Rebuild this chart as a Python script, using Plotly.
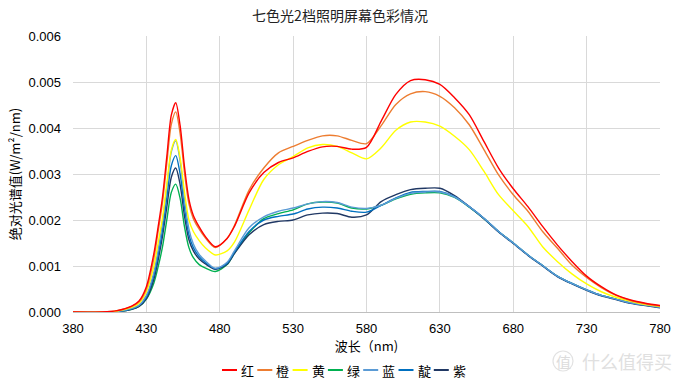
import plotly.graph_objects as go

wavelength = [380, 400, 410, 420, 425, 430, 435, 438, 441, 444, 447, 450, 453, 456, 459, 462, 466, 470, 477,
              485, 490, 500, 510, 520, 530, 540, 550, 560, 570, 580, 590, 600, 610, 620, 630, 640, 650, 660,
              670, 680, 690, 700, 710, 720, 730, 740, 750, 760, 770, 780]

# values in 1e-3 W/m2/nm
red = [0, 0.0, 0.03, 0.13, 0.24, 0.55, 1.25, 1.85, 2.50, 3.40, 4.28, 4.55, 4.05, 3.15, 2.45, 2.10, 1.85, 1.65, 1.42,
       1.60, 1.86, 2.59, 3.03, 3.25, 3.35, 3.49, 3.59, 3.60, 3.54, 3.58, 4.15, 4.73, 5.03, 5.05, 4.95, 4.66, 4.29, 3.71,
       3.13, 2.68, 2.29, 1.86, 1.46, 1.10, 0.78, 0.55, 0.37, 0.26, 0.19, 0.14]
orange = [0, 0.0, 0.03, 0.12, 0.22, 0.50, 1.15, 1.75, 2.38, 3.25, 4.08, 4.35, 3.88, 3.02, 2.35, 2.03, 1.80, 1.62, 1.40,
          1.60, 1.88, 2.65, 3.13, 3.46, 3.60, 3.73, 3.83, 3.83, 3.73, 3.66, 4.05, 4.51, 4.74, 4.79, 4.69, 4.44, 4.07, 3.53,
          2.98, 2.55, 2.19, 1.75, 1.39, 1.02, 0.75, 0.53, 0.36, 0.25, 0.18, 0.13]
yellow = [0, 0.0, 0.02, 0.10, 0.19, 0.44, 0.98, 1.50, 2.05, 2.80, 3.52, 3.75, 3.35, 2.60, 2.00, 1.75, 1.55, 1.40, 1.24,
          1.33, 1.52, 2.22, 2.88, 3.20, 3.38, 3.57, 3.64, 3.60, 3.46, 3.33, 3.57, 3.95, 4.13, 4.13, 4.04, 3.82, 3.53, 3.06,
          2.55, 2.20, 1.86, 1.42, 1.10, 0.83, 0.61, 0.44, 0.32, 0.23, 0.16, 0.12]
green = [0, 0.0, 0.01, 0.06, 0.12, 0.28, 0.62, 0.98, 1.42, 2.02, 2.60, 2.78, 2.47, 1.85, 1.40, 1.18, 1.03, 0.96, 0.88,
         1.03, 1.28, 1.72, 2.03, 2.14, 2.22, 2.35, 2.39, 2.37, 2.26, 2.24, 2.32, 2.46, 2.56, 2.59, 2.59, 2.49, 2.28, 2.03,
         1.75, 1.50, 1.24, 1.01, 0.78, 0.62, 0.48, 0.36, 0.28, 0.20, 0.15, 0.10]
lightblue = [0, 0.0, 0.01, 0.08, 0.15, 0.36, 0.85, 1.35, 1.95, 2.72, 3.48, 3.72, 3.28, 2.45, 1.80, 1.48, 1.25, 1.12, 0.95,
             1.08, 1.33, 1.83, 2.07, 2.19, 2.26, 2.35, 2.40, 2.38, 2.28, 2.25, 2.32, 2.47, 2.58, 2.61, 2.61, 2.50, 2.29, 2.04,
             1.75, 1.50, 1.24, 1.01, 0.78, 0.62, 0.48, 0.36, 0.28, 0.20, 0.15, 0.10]
blue = [0, 0.0, 0.01, 0.07, 0.14, 0.33, 0.78, 1.24, 1.78, 2.50, 3.18, 3.40, 3.00, 2.25, 1.68, 1.40, 1.20, 1.08, 0.94,
        1.06, 1.30, 1.75, 2.00, 2.08, 2.13, 2.24, 2.28, 2.26, 2.19, 2.17, 2.32, 2.48, 2.60, 2.62, 2.62, 2.51, 2.29, 2.04,
        1.75, 1.50, 1.24, 1.01, 0.78, 0.62, 0.48, 0.36, 0.28, 0.20, 0.15, 0.10]
navy = [0, 0.0, 0.01, 0.06, 0.12, 0.29, 0.70, 1.13, 1.65, 2.30, 2.93, 3.13, 2.77, 2.08, 1.57, 1.33, 1.15, 1.05, 0.93,
        1.04, 1.27, 1.68, 1.90, 1.97, 2.00, 2.11, 2.15, 2.14, 2.06, 2.11, 2.40, 2.55, 2.66, 2.69, 2.69, 2.53, 2.29, 2.03,
        1.74, 1.49, 1.23, 1.00, 0.77, 0.61, 0.47, 0.35, 0.27, 0.19, 0.14, 0.09]

names = ["红", "橙", "黄", "绿", "蓝", "靛", "紫"]
colors = ["#FF0000", "#ED7D31", "#FFFF00", "#00B050", "#5B9BD5", "#0070C0", "#203864"]
series = [red, orange, yellow, green, lightblue, blue, navy]

# figure geometry (px)
W, H = 680, 383
ML, MR, MT, MB = 73, 20, 36, 71
PW, PH = W - ML - MR, H - MT - MB

fig = go.Figure()
draw_order = [3, 6, 5, 4, 2, 1, 0]
for i in draw_order:
    fig.add_trace(go.Scatter(
        x=wavelength, y=[v / 1000 for v in series[i]], mode="lines", name=names[i],
        line=dict(color=colors[i], width=1.4, shape="spline", smoothing=0.8),
        showlegend=False,
    ))

cjk = "Noto Sans CJK SC, sans-serif"
fig.update_layout(
    width=W, height=H,
    margin=dict(l=ML, r=MR, t=MT, b=MB),
    paper_bgcolor="white", plot_bgcolor="white",
    font=dict(family="Liberation Sans, Noto Sans CJK SC, sans-serif", size=13, color="#000000"),
    title=dict(text="七色光2档照明屏幕色彩情况", x=0.5, xanchor="center", y=1 - 16 / H, yanchor="middle",
               font=dict(family=cjk, size=14, color="#222222")),
    xaxis=dict(range=[380, 780], dtick=50, tick0=380, showgrid=True, gridcolor="#D9D9D9",
               showline=True, linecolor="#BFBFBF", zeroline=False, ticks="", automargin=False,
               ticklabelstandoff=4,
               title=dict(text="波长（nm)", font=dict(family=cjk, size=13), standoff=4)),
    yaxis=dict(range=[0, 0.006], dtick=0.001, tickformat=".3f", showgrid=True, gridcolor="#D9D9D9",
               zeroline=False, ticks="", showline=False, automargin=False, ticklabelstandoff=11,
               title=dict(text="绝对光谱值(W/m²/nm)", font=dict(family=cjk, size=13), standoff=4)),
    showlegend=False,
)

# manual compact legend under the chart
leg_x0, leg_step, leg_len, leg_y = 222, 35.3, 15, 370
shapes = []
for k in range(len(names)):
    px = leg_x0 + k * leg_step
    fx0 = (px - ML) / PW
    fx1 = (px + leg_len - ML) / PW
    fy = (MT + PH - leg_y) / PH
    shapes.append(dict(type="line", xref="paper", yref="paper", x0=fx0, x1=fx1, y0=fy, y1=fy,
                       line=dict(color=colors[k], width=2)))
    fig.add_annotation(text=names[k], xref="paper", yref="paper", x=(px + leg_len + 2 - ML) / PW, y=fy,
                       xanchor="left", yanchor="middle", showarrow=False,
                       font=dict(family=cjk, size=13, color="#000000"))

# faint watermark
wm_y = (MT + PH - 361) / PH
shapes.append(dict(type="circle", xref="paper", yref="paper",
                   x0=(553 - ML) / PW, x1=(573 - ML) / PW, y0=wm_y - 10 / PH, y1=wm_y + 10 / PH,
                   line=dict(color="#E2E2E2", width=1.2)))
fig.add_annotation(text="值", xref="paper", yref="paper", x=(563 - ML) / PW, y=wm_y, xanchor="center",
                   yanchor="middle", showarrow=False, font=dict(family=cjk, size=15, color="#DCDCDC"))
fig.add_annotation(text="什么值得买", xref="paper", yref="paper", x=(580 - ML) / PW, y=wm_y, xanchor="left",
                   yanchor="middle", showarrow=False, font=dict(family=cjk, size=18, color="#E0E0E0"))
fig.update_layout(shapes=shapes)

fig.write_html("out.html", config={"displayModeBar": False},
               post_script="document.body.style.margin='0';document.body.style.padding='0';")
